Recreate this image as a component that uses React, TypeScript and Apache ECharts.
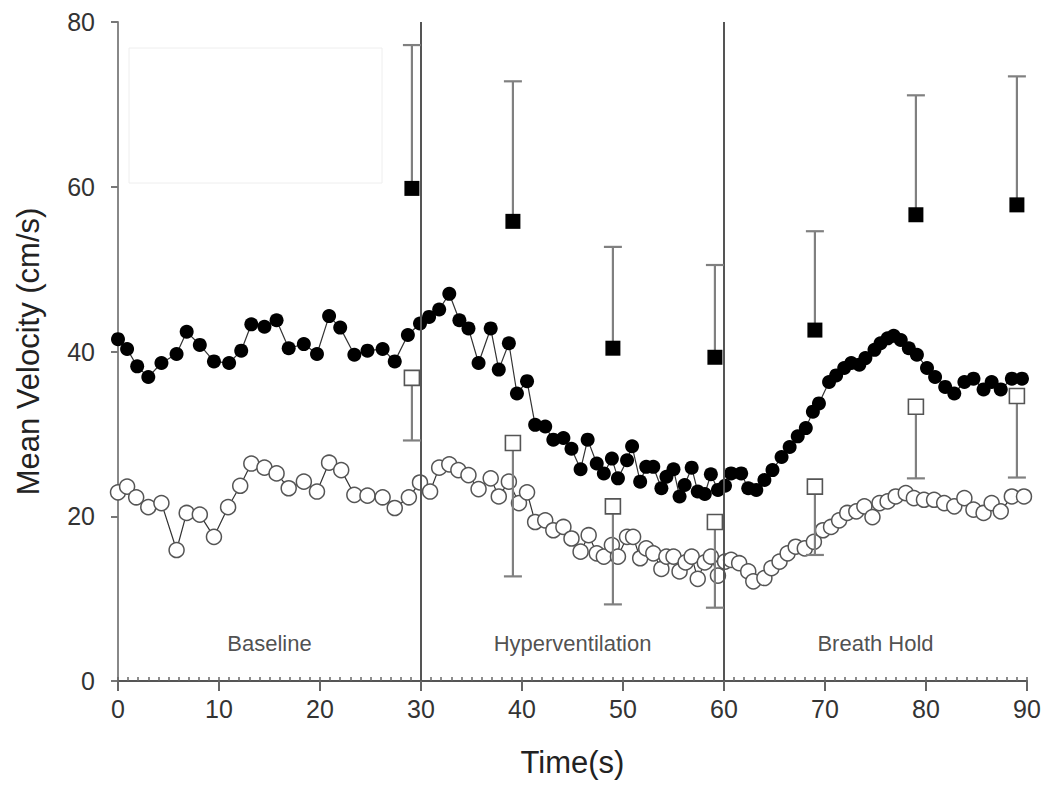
import React, { useEffect, useRef } from "react";
import * as echarts from "echarts";

// Beat-to-beat mean velocity (filled circles)
const filledTime = [0.0, 0.9, 1.9, 3.0, 4.3, 5.8, 6.8, 8.1, 9.5, 11.0, 12.2, 13.2, 14.5, 15.7, 16.9, 18.4, 19.7, 20.9, 22.0, 23.4, 24.7, 26.2, 27.4, 28.7, 29.9, 30.8, 31.8, 32.8, 33.8, 34.7, 35.7, 36.9, 37.7, 38.7, 39.5, 40.5, 41.3, 42.3, 43.1, 44.1, 44.9, 45.8, 46.5, 47.4, 48.1, 48.9, 49.5, 50.4, 50.9, 51.7, 52.3, 53.0, 53.8, 54.3, 55.0, 55.6, 56.1, 56.8, 57.4, 58.1, 58.7, 59.4, 60.1, 60.7, 61.7, 62.4, 63.2, 64.0, 64.8, 65.7, 66.5, 67.3, 68.1, 68.8, 69.4, 70.4, 71.1, 71.9, 72.6, 73.4, 74.0, 74.9, 75.5, 76.2, 76.8, 77.5, 78.3, 79.1, 80.1, 80.9, 81.9, 82.8, 83.8, 84.7, 85.7, 86.5, 87.4, 88.5, 89.5];
const filledVel = [41.5, 40.3, 38.2, 36.9, 38.6, 39.7, 42.4, 40.8, 38.8, 38.6, 40.1, 43.3, 43.0, 43.8, 40.4, 40.9, 39.7, 44.3, 42.9, 39.6, 40.1, 40.3, 38.8, 42.0, 43.4, 44.2, 45.1, 47.0, 43.8, 42.8, 38.6, 42.8, 37.8, 41.0, 34.9, 36.4, 31.1, 30.9, 29.3, 29.5, 28.2, 25.7, 29.3, 26.4, 25.2, 27.0, 24.6, 26.8, 28.5, 24.2, 26.0, 26.0, 23.4, 24.8, 25.7, 22.4, 23.8, 25.9, 23.0, 22.7, 25.1, 23.2, 23.7, 25.2, 25.2, 23.4, 23.2, 24.4, 25.6, 27.2, 28.4, 29.7, 30.7, 32.7, 33.7, 36.3, 37.1, 38.0, 38.6, 38.4, 39.2, 40.2, 41.0, 41.6, 41.9, 41.4, 40.4, 39.6, 38.0, 36.9, 35.7, 34.9, 36.3, 36.7, 35.4, 36.3, 35.4, 36.7, 36.7];

// Beat-to-beat mean velocity (open circles)
const openTime = [0.0, 0.9, 1.8, 3.0, 4.3, 5.8, 6.8, 8.1, 9.5, 10.9, 12.1, 13.2, 14.5, 15.7, 16.9, 18.4, 19.7, 20.9, 22.1, 23.4, 24.7, 26.2, 27.4, 28.8, 29.9, 30.9, 31.8, 32.8, 33.7, 34.7, 35.7, 36.9, 37.7, 38.7, 39.7, 40.5, 41.3, 42.3, 43.1, 44.1, 44.9, 45.8, 46.6, 47.4, 48.1, 48.9, 49.5, 50.4, 51.0, 51.7, 52.3, 53.0, 53.8, 54.3, 55.0, 55.6, 56.2, 56.8, 57.4, 58.1, 58.7, 59.4, 60.1, 60.7, 61.5, 62.4, 62.9, 64.0, 64.7, 65.5, 66.3, 67.1, 68.0, 68.9, 69.8, 70.6, 71.4, 72.2, 73.1, 73.9, 74.7, 75.4, 76.2, 77.0, 78.0, 78.8, 79.8, 80.8, 81.8, 82.8, 83.8, 84.7, 85.7, 86.5, 87.4, 88.5, 89.7];
const openVel = [22.9, 23.6, 22.3, 21.1, 21.6, 15.9, 20.4, 20.2, 17.5, 21.1, 23.7, 26.4, 25.9, 25.2, 23.4, 24.2, 23.0, 26.5, 25.6, 22.6, 22.5, 22.3, 21.0, 22.3, 24.1, 23.0, 25.9, 26.3, 25.6, 25.0, 23.3, 24.6, 22.4, 24.2, 21.6, 22.9, 19.3, 19.5, 18.3, 18.7, 17.3, 15.7, 17.7, 15.5, 15.1, 16.5, 15.1, 17.5, 17.5, 14.9, 16.1, 15.5, 13.6, 15.1, 15.1, 13.3, 14.4, 15.1, 12.4, 14.4, 15.1, 12.8, 14.5, 14.7, 14.3, 13.3, 12.1, 12.5, 13.7, 14.5, 15.5, 16.3, 16.1, 16.9, 18.3, 18.7, 19.5, 20.4, 20.6, 21.2, 19.9, 21.6, 21.8, 22.4, 22.8, 22.2, 22.0, 22.0, 21.6, 21.2, 22.2, 20.8, 20.4, 21.6, 20.6, 22.4, 22.4];

// 10-s averages with SD (squares)
const avgTime = [29.1, 39.1, 49.0, 59.1, 69.0, 79.0, 89.0];
const filledAvg = [59.8, 55.8, 40.4, 39.3, 42.6, 56.6, 57.8];
const filledUpper = [77.2, 72.8, 52.7, 50.5, 54.6, 71.1, 73.4];
const openAvg = [36.8, 28.9, 21.2, 19.3, 23.6, 33.3, 34.6];
const openLower = [29.2, 12.7, 9.3, 8.9, 15.3, 24.6, 24.7];

// Phase boundaries and labels
const phaseBoundaries = [30, 60];
const phaseNames = ["Baseline", "Hyperventilation", "Breath Hold"];
const phaseCenters = [15, 45, 75];
const phaseLabelY = 4.6;

const FONT = "'Liberation Sans', Arial, Helvetica, sans-serif";

function errorBarRender(params: any, api: any) {
  const x = api.value(0);
  const from = api.coord([x, api.value(1)]);
  const to = api.coord([x, api.value(2)]);
  const half = 9;
  const style = { stroke: "#808080", lineWidth: 2.2 };
  return {
    type: "group",
    children: [
      { type: "line", shape: { x1: from[0], y1: from[1], x2: to[0], y2: to[1] }, style },
      { type: "line", shape: { x1: to[0] - half, y1: to[1], x2: to[0] + half, y2: to[1] }, style },
    ],
  };
}

export default function App() {
  const ref = useRef<HTMLDivElement>(null);
  useEffect(() => {
    if (!ref.current) return;
    const chart = echarts.init(ref.current, null, { renderer: "svg" });
    const filledData = filledTime.map((t, i) => [t, filledVel[i]]);
    const openData = openTime.map((t, i) => [t, openVel[i]]);
    const filledSq = avgTime.map((t, i) => [t, filledAvg[i]]);
    const openSq = avgTime.map((t, i) => [t, openAvg[i]]);
    const filledErr = avgTime.map((t, i) => [t, filledAvg[i], filledUpper[i]]);
    const openErr = avgTime.map((t, i) => [t, openAvg[i], openLower[i]]);
    const phaseData = phaseNames.map((n, i) => ({ name: n, value: [phaseCenters[i], phaseLabelY] }));

    chart.setOption({
      animation: false,
      backgroundColor: "#ffffff",
      grid: { left: 118, right: 23, top: 22, bottom: 106, containLabel: false },
      graphic: [
        {
          type: "rect",
          shape: { x: 129, y: 48, width: 253, height: 135 },
          style: { fill: "none", stroke: "#eeeeee", lineWidth: 1 },
          silent: true,
        },
      ],
      xAxis: [
        {
          type: "value",
          min: 0,
          max: 90,
          interval: 10,
          name: "Time(s)",
          nameLocation: "middle",
          nameGap: 66,
          nameTextStyle: { fontFamily: FONT, fontSize: 31, color: "#222" },
          axisLine: { show: true, onZero: false, lineStyle: { color: "#555", width: 2 } },
          axisTick: { show: true, length: 10, lineStyle: { color: "#666", width: 2 } },
          axisLabel: { fontFamily: FONT, fontSize: 25, color: "#333", margin: 15 },
          splitLine: { show: false },
        },
        {
          type: "value",
          min: 0,
          max: 90,
          interval: 1,
          position: "bottom",
          axisLine: { show: false },
          axisTick: { show: true, inside: true, length: 4, lineStyle: { color: "#666", width: 1.5 } },
          axisLabel: { show: false },
          splitLine: { show: false },
        },
      ],
      yAxis: {
        type: "value",
        min: 0,
        max: 80,
        interval: 20,
        name: "Mean Velocity (cm/s)",
        nameLocation: "middle",
        nameGap: 74,
        nameTextStyle: { fontFamily: FONT, fontSize: 31, color: "#222" },
        axisLine: { show: true, onZero: false, lineStyle: { color: "#888", width: 2 } },
        axisTick: { show: true, length: 7, lineStyle: { color: "#777", width: 2 } },
        axisLabel: { fontFamily: FONT, fontSize: 25, color: "#333", margin: 23 },
        splitLine: { show: false },
      },
      series: [
        {
          name: "open",
          type: "line",
          data: openData,
          symbol: "circle",
          symbolSize: 15,
          showAllSymbol: true,
          lineStyle: { color: "#333", width: 1.2 },
          itemStyle: { color: "#ffffff", borderColor: "#555", borderWidth: 1.5 },
          z: 3,
          markLine: {
            silent: true,
            symbol: ["none", "none"],
            label: { show: false },
            lineStyle: { color: "#555", width: 2, type: "solid" },
            data: phaseBoundaries.map((b) => ({ xAxis: b })),
          },
        },
        {
          name: "filled",
          type: "line",
          data: filledData,
          symbol: "circle",
          symbolSize: 14,
          showAllSymbol: true,
          lineStyle: { color: "#333", width: 1.2 },
          itemStyle: { color: "#000" },
          z: 4,
        },
        {
          name: "filledErr",
          type: "custom",
          renderItem: errorBarRender,
          data: filledErr,
          z: 5,
        },
        {
          name: "openErr",
          type: "custom",
          renderItem: errorBarRender,
          data: openErr,
          z: 5,
        },
        {
          name: "filledAvg",
          type: "scatter",
          data: filledSq,
          symbol: "rect",
          symbolSize: 15,
          itemStyle: { color: "#000", opacity: 1 },
          z: 6,
        },
        {
          name: "openAvg",
          type: "scatter",
          data: openSq,
          symbol: "rect",
          symbolSize: 15,
          itemStyle: { color: "#fff", borderColor: "#555", borderWidth: 1.6, opacity: 1 },
          z: 6,
        },
        {
          name: "phases",
          type: "scatter",
          data: phaseData,
          symbol: "circle",
          symbolSize: 1,
          silent: true,
          itemStyle: { color: "rgba(0,0,0,0)" },
          label: {
            show: true,
            position: "inside",
            formatter: (p: any) => p.name,
            fontFamily: FONT,
            fontSize: 22,
            color: "#222",
          },
          z: 7,
        },
      ],
    });
    return () => chart.dispose();
  }, []);
  return (
    <div
      ref={ref}
      style={{ position: "fixed", left: 0, top: 0, width: 1050, height: 787, background: "#fff" }}
    />
  );
}
